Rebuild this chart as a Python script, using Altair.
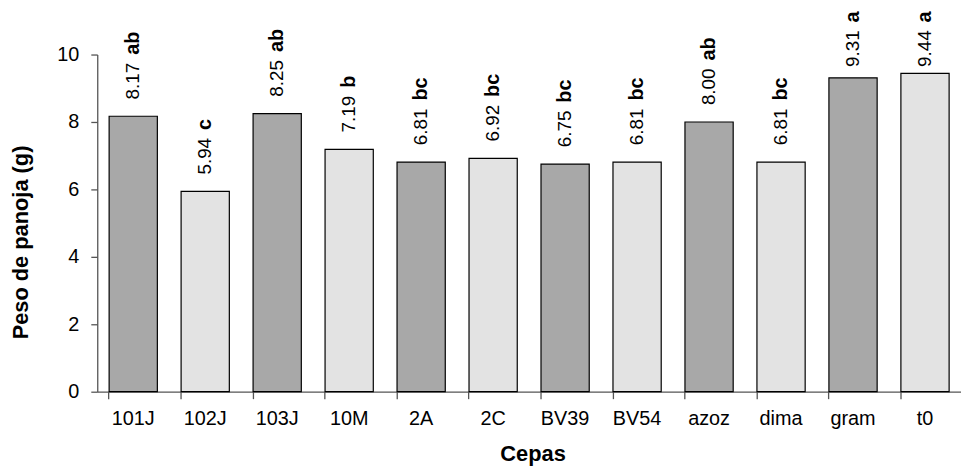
import altair as alt
import pandas as pd

cepas = ["101J", "102J", "103J", "10M", "2A", "2C", "BV39", "BV54", "azoz", "dima", "gram", "t0"]
peso = [8.17, 5.94, 8.25, 7.19, 6.81, 6.92, 6.75, 6.81, 8.00, 6.81, 9.31, 9.44]
letras = ["ab", "c", "ab", "b", "bc", "bc", "bc", "bc", "ab", "bc", "a", "a"]
tono = ["oscuro", "claro"] * 6
y_ticks = [0, 2, 4, 6, 8, 10]
label_cap = 9.13  # labels of the tallest bars are kept inside the chart

df = pd.DataFrame({"cepa": cepas, "peso": peso, "letra": letras, "tono": tono})

FONT = "Liberation Sans"

x = alt.X(
    "cepa:N",
    sort=None,
    scale=alt.Scale(paddingInner=0.33, paddingOuter=0.165),
    axis=alt.Axis(
        title="Cepas",
        labelAngle=0,
        labelFontSize=20,
        labelFont=FONT,
        labelColor="black",
        labelPadding=10,
        tickSize=7,
        tickColor="#555555",
        tickWidth=1.3,
        bandPosition=0,
        domainColor="#555555",
        domainWidth=1.3,
        titleFont=FONT,
        titleFontSize=22,
        titleFontWeight="bold",
        titleColor="black",
        titleX=439,
        titleY=69,
        titleBaseline="alphabetic",
        titleAlign="center",
    ),
)

y = alt.Y(
    "peso:Q",
    scale=alt.Scale(domain=[0, 10], nice=False),
    axis=alt.Axis(
        title="Peso de panoja (g)",
        values=y_ticks,
        grid=False,
        labelFontSize=20,
        labelFont=FONT,
        labelColor="black",
        labelPadding=12,
        tickSize=6.5,
        tickColor="#555555",
        tickWidth=1.3,
        domainColor="#555555",
        domainWidth=1.3,
        titleFont=FONT,
        titleFontSize=22,
        titleFontWeight="bold",
        titleColor="black",
        titleAngle=270,
        titleX=-70,
        titleY=189,
        titleBaseline="alphabetic",
        titleAlign="center",
    ),
)

bars = alt.Chart(df).mark_bar(stroke="black", strokeWidth=1.2).encode(
    x=x,
    y=y,
    fill=alt.Fill(
        "tono:N",
        scale=alt.Scale(domain=["oscuro", "claro"], range=["#a8a8a8", "#e3e3e3"]),
        legend=None,
    ),
)

base_txt = alt.Chart(df).transform_calculate(
    label_y=f"min(datum.peso, {label_cap})"
)

valores = base_txt.mark_text(
    angle=270, align="left", baseline="middle", dx=17, fontSize=19, font=FONT, color="black"
).encode(
    x=alt.X("cepa:N", sort=None),
    y="label_y:Q",
    text=alt.Text("peso:Q", format=".2f"),
)

letras_txt = base_txt.mark_text(
    angle=270, align="left", baseline="middle", dx=62, fontSize=20, font=FONT,
    fontWeight="bold", color="black"
).encode(
    x=alt.X("cepa:N", sort=None),
    y="label_y:Q",
    text="letra:N",
)

chart = (
    alt.layer(bars, valores, letras_txt)
    .properties(
        width=871,
        height=340,
        autosize=alt.AutoSizeParams(type="none"),
        padding={"left": 90, "top": 45, "right": 0, "bottom": 75},
        background="white",
    )
    .configure_view(stroke=None)
)

chart.save("out.html", embed_options={"renderer": "svg", "actions": False})
